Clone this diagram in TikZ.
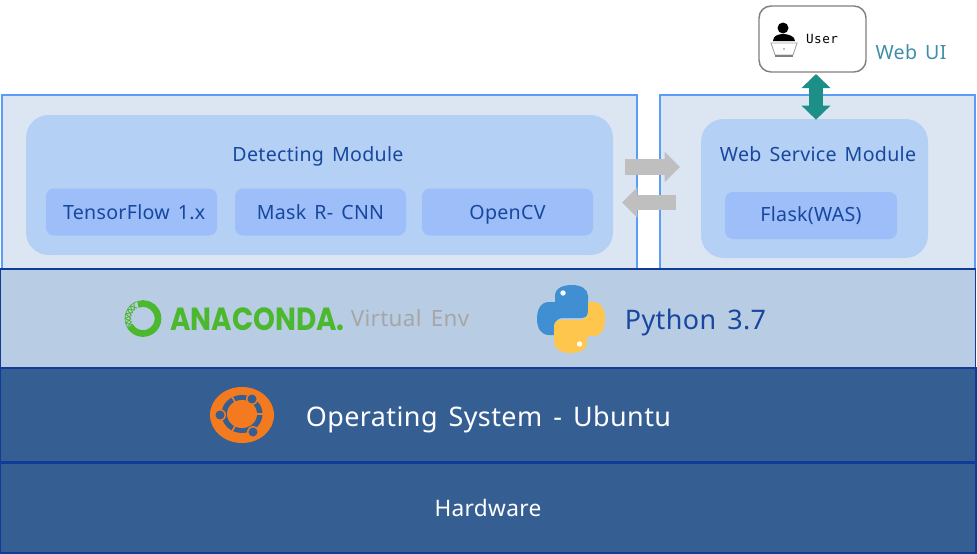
\documentclass[tikz,border=0pt]{standalone}
\usepackage{fontspec}
\usepackage{xcolor}
\setmainfont{Noto Sans}[LetterSpace=1.5,WordSpace=1.5]
\newfontfamily\monofont{DejaVu Sans Mono}[LetterSpace=4]
\newfontfamily\logofont{Poppins}[FakeStretch=0.87]
\usetikzlibrary{positioning,calc,arrows.meta}

\definecolor{panelfill}{HTML}{DCE6F2}
\definecolor{panelline}{HTML}{5B9CF6}
\definecolor{modulefill}{HTML}{B4D0F5}
\definecolor{libfill}{HTML}{9DBEF8}
\definecolor{bandfill}{HTML}{B8CCE4}
\definecolor{darkfill}{HTML}{355F93}
\definecolor{bandline}{HTML}{0F3B99}
\definecolor{textblue}{HTML}{17479E}
\definecolor{webui}{HTML}{3F8FA8}
\definecolor{tealarrow}{HTML}{1C9088}
\definecolor{grayarrow}{HTML}{BFBFBF}
\definecolor{condagreen}{HTML}{4CB82E}
\definecolor{pyblue}{HTML}{3F8FD2}
\definecolor{pyyellow}{HTML}{FFC64D}
\definecolor{ubuntuorange}{HTML}{F47A20}

\tikzset{
    pxbox/.style 2 args={minimum width=#1*0.75pt, minimum height=#2*0.75pt, inner sep=0pt, outer sep=0pt},
    smalltext/.style={font=\fontsize{14.7}{18}\selectfont, text height=13pt, text depth=2.4pt},
    bigtext/.style={font=\fontsize{20.2}{24}\selectfont, text height=17.3pt, text depth=3pt},
    panel/.style={draw=panelline, line width=2.1pt, fill=panelfill},
    module/.style={fill=modulefill, rounded corners=17pt},
    lib/.style={fill=libfill, rounded corners=6pt, text=textblue, smalltext},
    band/.style={draw=bandline, line width=1.3pt},
    blockarrow/.style={line width=11.5pt, draw=grayarrow, -{Triangle[length=11.5pt, width=22pt]}}
}

\begin{document}
\begin{tikzpicture}[x=0.75pt, y=-0.75pt]
    \useasboundingbox (0,0) rectangle (977,553);

    % panels on top
    \node[panel, pxbox={635}{174}] (detectpanel) at (319.5,182) {};
    \node[panel, pxbox={315}{174}] (webpanel) at (817.5,182) {};

    % the three bands
    \node[band, fill=bandfill, pxbox={975}{99}] (envband) at (488,318.5) {};
    \node[band, fill=darkfill, pxbox={976}{94}] (osband) at (488,415) {};
    \node[band, fill=darkfill, pxbox={976}{90}, text=white, font=\fontsize{17}{20}\selectfont, text height=14.8pt, text depth=2.8pt] (hwband) at (488,508) {Hardware};

    % modules
    \node[module, pxbox={587}{140}] (detectmodule) at (319.5,185) {};
    \node[text=textblue, smalltext] (detecttext) at (318,154) {Detecting Module};
    \node[lib, pxbox={171}{47}] (tensorflow) at (131.5,212) {\kern4ptTensorFlow 1.x};
    \node[lib, pxbox={171}{47}] (maskrcnn) at (320.5,212) {Mask R- CNN};
    \node[lib, pxbox={171}{47}] (opencv) at (507.5,212) {OpenCV};

    \node[module, pxbox={227}{139}] (webmodule) at (814.5,188.5) {};
    \node[text=textblue, smalltext] (webtext) at (818,154) {Web Service Module};
    \node[lib, pxbox={172}{47}, text depth=3.8pt] (flask) at (811,215.5) {Flask(WAS)};

    % user box
    \node[draw=gray, fill=white, line width=1.1pt, rounded corners=9pt, pxbox={107}{66}] (userbox) at (812.5,39) {};
    \node[font=\monofont\fontsize{9.5}{11}\selectfont] (usertext) at (822,39) {User};
    \node[text=webui, smalltext] (webuitext) at (911,52) {Web UI};
    \fill (783,28) circle (5.5);
    \fill (773,41) .. controls (773,36) and (778,34) .. (783,34) .. controls (788,34) and (795,36) .. (795,41) -- cycle;
    \draw[gray!70, line width=0.7pt, fill=white] (771,43) -- (797,43) -- (793,55) -- (775,55) -- cycle;
    \draw[gray, line width=1.2pt] (775,56) -- (793,56);
    \fill[gray] (784,49) circle (0.8);

    % arrows
    \draw[line width=10pt, tealarrow, {Triangle[length=10.5pt, width=21pt]}-{Triangle[length=10.5pt, width=21pt]}, shorten <=1.5pt, shorten >=-0.5pt]
        (userbox.south -| 816,0) -- (webmodule.north -| 816,0);
    \coordinate (toweba) at (625,167);
    \coordinate (towebb) at (680,167);
    \coordinate (todeta) at (676,202.5);
    \coordinate (todetb) at (622,202.5);
    \draw[blockarrow] (toweba) -- (towebb);
    \draw[blockarrow] (todeta) -- (todetb);

    % anaconda
    \begin{scope}[shift={(143,318.5)}]
        \draw[condagreen, line width=5pt] (150:15) arc (150:-110:15);
        \draw[condagreen, line width=0.5pt] (150:18) arc (150:250:18);
        \foreach \a in {150,165,...,235} {
            \draw[condagreen, line width=0.7pt] (\a:12) -- (\a+15:18);
            \draw[condagreen, line width=0.7pt] (\a+15:12) -- (\a:18);
        }
    \end{scope}
    \node[text=condagreen, font=\logofont\bfseries\fontsize{24}{26}\selectfont, inner sep=0pt, text height=16.8pt, text depth=0pt] (anaconda) at (257.5,319) {ANACONDA.};
    \node[text=gray!70, font=\fontsize{16.8}{18}\selectfont, text height=13.5pt, text depth=2.4pt] (virtualenv) at (410,319) {Virtual Env};

    % python
    \fill[pyblue] (555,302) -- (555,296) .. controls (555,288) and (563,285) .. (572,285) .. controls (581,285) and (588,289) .. (588,296) -- (588,312) .. controls (588,316) and (585,318) .. (581,318) -- (563,318) .. controls (558,318) and (555,321) .. (555,326) -- (555,335) -- (549,335) .. controls (541,335) and (537,328) .. (537,319) .. controls (537,309) and (541,302) .. (549,302) -- cycle;
    \fill[pyyellow] (587,336) -- (587,342) .. controls (587,350) and (579,353) .. (570,353) .. controls (561,353) and (554,349) .. (554,342) -- (554,326) .. controls (554,322) and (557,320) .. (561,320) -- (579,320) .. controls (584,320) and (588,317) .. (588,312) -- (588,302) -- (593,302) .. controls (601,302) and (605,309) .. (605,319) .. controls (605,329) and (601,336) .. (593,336) -- cycle;
    \fill[white] (563,293) circle (2.7);
    \fill[white] (579.5,344) circle (2.7);
    \node[text=textblue, bigtext] (pythontext) at (695.5,320) {Python 3.7};

    % ubuntu
    \fill[ubuntuorange] (242,415) ellipse (32 and 28);
    \fill[darkfill] (242,414) ellipse (20.5 and 19);
    \fill[ubuntuorange] (242,414) ellipse (15 and 14);
    \foreach \a in {0,120,240} {
        \draw[ubuntuorange, line width=1.2pt] (242,414) -- ++(\a:23);
    }
    \foreach \cx/\cy in {252/399,220/415,253/432} {
        \fill[ubuntuorange] (\cx,\cy) circle (6);
        \fill[darkfill] (\cx,\cy) circle (4.5);
    }
    \node[text=white, bigtext] (ostext) at (488.5,417) {Operating System - Ubuntu};
\end{tikzpicture}
\end{document}
